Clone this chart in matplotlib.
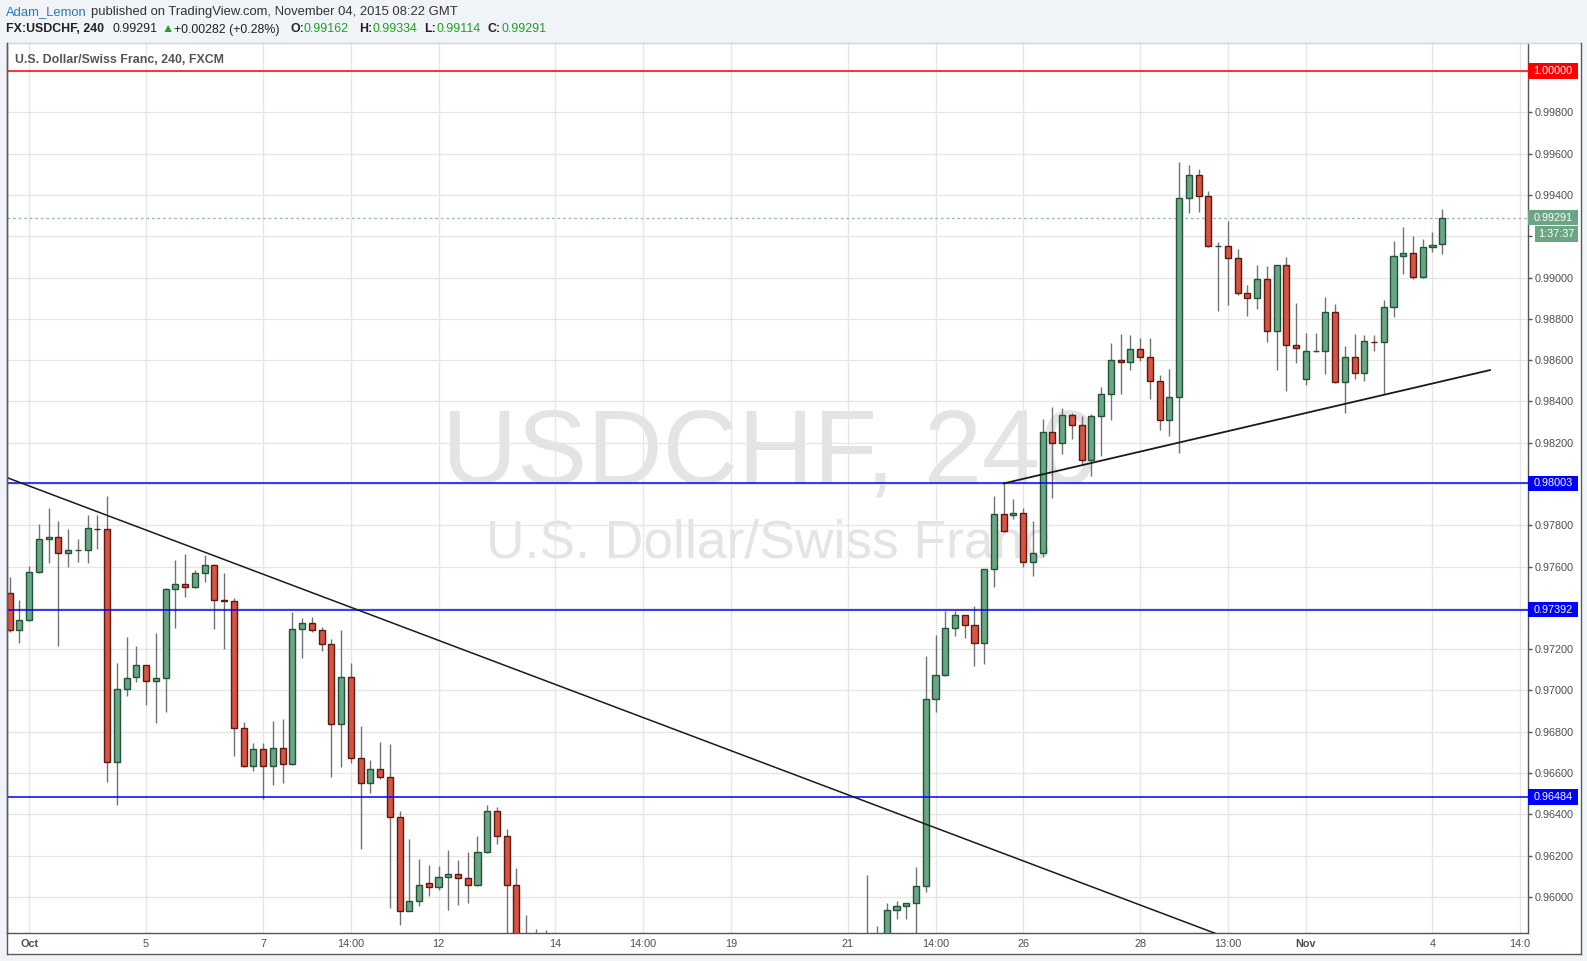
import matplotlib
matplotlib.use('Agg')
import matplotlib.pyplot as plt
from matplotlib.patches import Rectangle
from matplotlib.lines import Line2D
from matplotlib.transforms import blended_transform_factory
import numpy as np

plt.rcParams['font.family'] = ['Liberation Sans', 'DejaVu Sans']

# ---------------- data (FX:USDCHF, 240 min candles) ----------------
opens = [0.97470, 0.97291, 0.97339, 0.97572, 0.97736, 0.97741, 0.97664, 0.97678, 0.97682, 0.97784,
         0.97780, 0.96654, 0.97005, 0.97063, 0.97121, 0.97048, 0.97058, 0.97489, 0.97514, 0.97499,
         0.97567, 0.97610, 0.97436, 0.97431, 0.96816, 0.96632, 0.96714, 0.96632, 0.96719, 0.96645,
         0.97296, 0.97325, 0.97291, 0.97223, 0.96835, 0.97063, 0.96675, 0.96550, 0.96618, 0.96582,
         0.96388, 0.95933, 0.95978, 0.96065, 0.96049, 0.96094, 0.96109, 0.96090, 0.96056, 0.96216,
         0.96414, 0.96293, 0.96056, 0.95600, 0.95520, 0.95450, 0.95340, 0.95180, 0.95020, 0.95110,
         0.95240, 0.95360, 0.95080, 0.94850, 0.94910, 0.95090, 0.95210, 0.95400, 0.95320, 0.95380,
         0.95560, 0.95510, 0.95430, 0.95490, 0.95470, 0.95600, 0.95550, 0.95630, 0.95700, 0.95580,
         0.95660, 0.95680, 0.95560, 0.95620, 0.95590, 0.95650, 0.95610, 0.95690, 0.95720, 0.95750,
         0.95700, 0.95936, 0.95954, 0.95968, 0.96051, 0.96957, 0.97073, 0.97301, 0.97364, 0.97315,
         0.97228, 0.97587, 0.97853, 0.97848, 0.97858, 0.97624, 0.97664, 0.98250, 0.98197, 0.98333,
         0.98284, 0.98115, 0.98328, 0.98435, 0.98599, 0.98590, 0.98653, 0.98614, 0.98498, 0.98309,
         0.98420, 0.99384, 0.99496, 0.99394, 0.99152, 0.99155, 0.99093, 0.98924, 0.98900, 0.98992,
         0.98740, 0.99060, 0.98672, 0.98510, 0.98643, 0.98646, 0.98832, 0.98493, 0.98614, 0.98536,
         0.98690, 0.98687, 0.98856, 0.99103, 0.99118, 0.99001, 0.99147, 0.99162]
highs = [0.97549, 0.97438, 0.97602, 0.97806, 0.97883, 0.97820, 0.97782, 0.97733, 0.97849, 0.97849,
         0.97943, 0.97132, 0.97258, 0.97215, 0.97125, 0.97278, 0.97495, 0.97631, 0.97660, 0.97583,
         0.97654, 0.97612, 0.97568, 0.97446, 0.96846, 0.96745, 0.96745, 0.96853, 0.96861, 0.97380,
         0.97350, 0.97355, 0.97307, 0.97247, 0.97292, 0.97132, 0.96828, 0.96661, 0.96749, 0.96740,
         0.96417, 0.96282, 0.96183, 0.96154, 0.96149, 0.96227, 0.96178, 0.96217, 0.96295, 0.96443,
         0.96434, 0.96329, 0.96140, 0.95914, 0.95844, 0.95839, 0.95560, 0.95310, 0.95190, 0.95300,
         0.95410, 0.95520, 0.95170, 0.94970, 0.95140, 0.95280, 0.95460, 0.95550, 0.95430, 0.95610,
         0.95690, 0.95600, 0.95580, 0.95630, 0.95660, 0.95740, 0.95680, 0.95780, 0.95790, 0.95710,
         0.95770, 0.95760, 0.95690, 0.95740, 0.95710, 0.95780, 0.95760, 0.95800, 0.96106, 0.95859,
         0.95972, 0.95980, 0.95970, 0.96146, 0.97165, 0.97267, 0.97385, 0.97385, 0.97366, 0.97409,
         0.97590, 0.97942, 0.98003, 0.97927, 0.97884, 0.97821, 0.98313, 0.98373, 0.98367, 0.98343,
         0.98330, 0.98338, 0.98470, 0.98683, 0.98727, 0.98722, 0.98707, 0.98707, 0.98528, 0.98557,
         0.99560, 0.99546, 0.99526, 0.99420, 0.99173, 0.99274, 0.99139, 0.98964, 0.99060, 0.99055,
         0.99062, 0.99100, 0.98877, 0.98732, 0.98732, 0.98906, 0.98871, 0.98667, 0.98727, 0.98722,
         0.98722, 0.98890, 0.99177, 0.99245, 0.99202, 0.99187, 0.99221, 0.99334]
lows = [0.97281, 0.97231, 0.97335, 0.97568, 0.97615, 0.97216, 0.97599, 0.97623, 0.97618, 0.97686,
        0.96554, 0.96447, 0.96973, 0.97042, 0.96931, 0.96843, 0.96897, 0.97304, 0.97454, 0.97497,
        0.97526, 0.97299, 0.97202, 0.96683, 0.96628, 0.96611, 0.96476, 0.96540, 0.96550, 0.96638,
        0.97158, 0.97284, 0.97192, 0.96582, 0.96630, 0.96650, 0.96230, 0.96505, 0.96571, 0.95946,
        0.95865, 0.95930, 0.95957, 0.96006, 0.96035, 0.95938, 0.95962, 0.95969, 0.96052, 0.96212,
        0.96258, 0.95710, 0.95520, 0.95480, 0.95380, 0.95290, 0.95120, 0.94960, 0.94890, 0.95000,
        0.95150, 0.95010, 0.94780, 0.94760, 0.94830, 0.95020, 0.95150, 0.95280, 0.95200, 0.95330,
        0.95470, 0.95380, 0.95360, 0.95410, 0.95430, 0.95510, 0.95460, 0.95560, 0.95530, 0.95490,
        0.95590, 0.95510, 0.95480, 0.95550, 0.95500, 0.95570, 0.95520, 0.95610, 0.95650, 0.95660,
        0.95660, 0.95891, 0.95891, 0.95790, 0.96025, 0.96897, 0.97070, 0.97265, 0.97256, 0.97120,
        0.97130, 0.97503, 0.97768, 0.97829, 0.97600, 0.97556, 0.97648, 0.97934, 0.98144, 0.98220,
        0.98091, 0.98040, 0.98137, 0.98312, 0.98438, 0.98554, 0.98598, 0.98414, 0.98263, 0.98234,
        0.98152, 0.99315, 0.99320, 0.99150, 0.98840, 0.98869, 0.98917, 0.98816, 0.98850, 0.98690,
        0.98554, 0.98452, 0.98588, 0.98481, 0.98640, 0.98535, 0.98490, 0.98346, 0.98510, 0.98501,
        0.98646, 0.98435, 0.98811, 0.99019, 0.98995, 0.98998, 0.99126, 0.99114]
closes = [0.97291, 0.97339, 0.97572, 0.97736, 0.97741, 0.97664, 0.97678, 0.97682, 0.97785, 0.97780,
          0.96654, 0.97005, 0.97058, 0.97121, 0.97048, 0.97058, 0.97489, 0.97514, 0.97499, 0.97567,
          0.97610, 0.97436, 0.97433, 0.96816, 0.96632, 0.96714, 0.96632, 0.96719, 0.96645, 0.97296,
          0.97325, 0.97291, 0.97223, 0.96835, 0.97063, 0.96675, 0.96550, 0.96618, 0.96582, 0.96388,
          0.95933, 0.95978, 0.96056, 0.96049, 0.96094, 0.96109, 0.96090, 0.96056, 0.96216, 0.96414,
          0.96293, 0.96056, 0.95600, 0.95520, 0.95450, 0.95340, 0.95180, 0.95020, 0.95110, 0.95240,
          0.95360, 0.95080, 0.94850, 0.94910, 0.95090, 0.95210, 0.95400, 0.95320, 0.95380, 0.95560,
          0.95510, 0.95430, 0.95490, 0.95470, 0.95600, 0.95550, 0.95630, 0.95700, 0.95580, 0.95660,
          0.95680, 0.95560, 0.95620, 0.95590, 0.95650, 0.95610, 0.95690, 0.95720, 0.95750, 0.95700,
          0.95936, 0.95954, 0.95968, 0.96051, 0.96957, 0.97073, 0.97301, 0.97364, 0.97315, 0.97228,
          0.97587, 0.97853, 0.97771, 0.97858, 0.97624, 0.97664, 0.98250, 0.98197, 0.98333, 0.98284,
          0.98115, 0.98328, 0.98435, 0.98599, 0.98590, 0.98653, 0.98614, 0.98498, 0.98309, 0.98420,
          0.99384, 0.99496, 0.99394, 0.99152, 0.99155, 0.99093, 0.98924, 0.98900, 0.98992, 0.98740,
          0.99060, 0.98672, 0.98657, 0.98643, 0.98646, 0.98832, 0.98493, 0.98614, 0.98536, 0.98691,
          0.98687, 0.98856, 0.99103, 0.99118, 0.99001, 0.99147, 0.99160, 0.99291]

# time-axis labels (bar index where each label sits)
time_tick_bars = [2, 14, 26, 35, 44, 56, 65, 74, 86, 95, 104, 116, 125, 133, 146, 155]
time_tick_labels = ["Oct", "5", "7", "14:00", "12", "14", "14:00", "19", "21", "14:00",
                    "26", "28", "13:00", "Nov", "4", "14:0"]
month_labels = ["Oct", "Nov"]

# drawn levels / trend lines
level_prices = [1.00000, 0.98003, 0.97392, 0.96484]
level_colors = ['#ff0000', '#0000ff', '#0000ff', '#0000ff']
down_trend_bars = [0.4, 123.6]
down_trend_prices = [0.98019, 0.95825]
up_trend_bars = [102, 151.9]
up_trend_prices = [0.98003, 0.98552]
last_price = 0.99291
countdown = "1:37:37"

# ---------------- figure layout ----------------
W, H = 1587, 961
fig = plt.figure(figsize=(W / 100, H / 100), dpi=100, facecolor='#f0f3f7')
fx = lambda px: px / W
fy = lambda py: 1 - py / H

# white panel
fig.add_artist(Rectangle((fx(6.5), fy(954)), fx(1580.5) - fx(6.5), (954 - 43) / H,
                         transform=fig.transFigure, facecolor='white', edgecolor='none', zorder=0))
for (x0, y0, x1, y1, col) in [(6.5, 43, 1580.5, 43, '#d3d7dc'), (1580.5, 43, 1580.5, 954, '#5a5a5a'),
                              (6.5, 954, 1580.5, 954, '#5a5a5a'), (6.5, 43, 6.5, 954, '#5a5a5a')]:
    fig.add_artist(Line2D([fx(x0), fx(x1)], [fy(y0), fy(y1)], transform=fig.transFigure,
                          color=col, lw=1, zorder=0.5))

ax_left, ax_right, ax_top, ax_bot = 6.7, 1528, 43, 933.3
ax = fig.add_axes([fx(ax_left), fy(ax_bot), fx(ax_right) - fx(ax_left), (ax_bot - ax_top) / H])
ax.set_facecolor('white')
ax.set_xlim(-0.31, 155.8)
ax.set_ylim(0.958233, 1.001367)
ax.set_axisbelow(True)

for s in ['left', 'right', 'bottom']:
    ax.spines[s].set_color('#555555')
    ax.spines[s].set_linewidth(1)
ax.spines['top'].set_color('#d3d7dc')

# ticks (the 0.99200 label is hidden behind the countdown box in the original)
hidden_tick = 0.992
ax.yaxis.tick_right()
yt = np.round(np.arange(0.960, 1.0005, 0.002), 3)
ax.set_yticks(yt)
ax.set_yticklabels(["" if abs(v - hidden_tick) < 1e-9 else f"{v:.5f}" for v in yt])
ax.tick_params(axis='y', direction='out', length=3, width=1, color='#555555', pad=2,
               labelsize=7.8, labelcolor='#4d4d4d')
ax.set_xticks(time_tick_bars)
ax.set_xticklabels(time_tick_labels)
ax.tick_params(axis='x', length=0, pad=4, labelsize=7.8, labelcolor='#4d4d4d')
for lab in ax.get_xticklabels():
    if lab.get_text() in month_labels:
        lab.set_fontweight('bold')
ax.grid(True, color='#e6e6e6', lw=1)

# watermark
renderer = fig.canvas.get_renderer()


def fit(t, target):
    w = t.get_window_extent(renderer).width
    t.set_fontsize(t.get_fontsize() * target / w)


wm1 = ax.text(fx(770), fy(456), "USDCHF, 240", transform=fig.transFigure, ha='center', va='center',
              fontsize=74, color='#e4e4e4', zorder=0.3)
fit(wm1, 656)
wm2 = ax.text(fx(768), fy(544), "U.S. Dollar/Swiss Franc", transform=fig.transFigure, ha='center',
              va='center', fontsize=38, color='#e4e4e4', zorder=0.3)
fit(wm2, 563)

# candles
idx = np.arange(len(opens))
o = np.array(opens); c = np.array(closes); h = np.array(highs); l = np.array(lows)
up = c >= o
ax.vlines(idx, l, h, color='#737375', lw=1, zorder=3)
ax.bar(idx[up], (c - o)[up], bottom=o[up], width=0.62, color='#6ba583', edgecolor='#225437',
       lw=1, zorder=4)
ax.bar(idx[~up], (o - c)[~up], bottom=c[~up], width=0.62, color='#d75442', edgecolor='#5b1a13',
       lw=1, zorder=4)

# horizontal levels
for p, col in zip(level_prices, level_colors):
    ax.axhline(p, color=col, lw=1.1, zorder=5)
ax.axhline(last_price, color='#9dbdb3', lw=1, ls=(0, (2, 2)), zorder=2)

# trend lines
slope = (down_trend_prices[1] - down_trend_prices[0]) / (down_trend_bars[1] - down_trend_bars[0])
xs = np.array([-2.0, 160.0])
ax.plot(xs, down_trend_prices[0] + slope * (xs - down_trend_bars[0]), color='#1a1a1a', lw=1.1, zorder=5)
ax.plot(up_trend_bars, up_trend_prices, color='#1a1a1a', lw=1.3, zorder=5)

# price labels on the axis
blend = blended_transform_factory(ax.transAxes, ax.transData)
axw = ax_right - ax_left
px_per_unit = (ax_bot - ax_top) / (1.001367 - 0.958233)
box_h = 15.5 / px_per_unit


def price_box(price, text, col, x0px=0, x1px=50):
    ax.add_patch(Rectangle((1 + x0px / axw, price - box_h / 2), (x1px - x0px) / axw, box_h,
                           transform=blend, facecolor=col, edgecolor='none', clip_on=False, zorder=10))
    ax.text(1 + (x0px + x1px) / 2 / axw, price, text, transform=blend, ha='center', va='center',
            color='white', fontsize=7.8, clip_on=False, zorder=11)


for p, col in zip(level_prices, level_colors):
    price_box(p, f"{p:.5f}", col)
price_box(last_price, f"{last_price:.5f}", '#6ba583')
price_box(last_price - 16.5 / px_per_unit, countdown, '#6ba583', x0px=7, x1px=50)

# in-chart legend
lg = fig.text(fx(15.2), fy(59.7), "U.S. Dollar/Swiss Franc, 240, FXCM", ha='left', va='center',
              fontsize=9, color='#555555', fontweight='bold', zorder=5)
fit(lg, 209.5)

# header line 1
author = "Adam_Lemon"
published = "published on TradingView.com, November 04, 2015 08:22 GMT"
probe = fig.text(fx(6.1), fy(12), author + " " + published, ha='left', va='center', fontsize=9.5)
fit(probe, 450)
fs1 = probe.get_fontsize()
probe.remove()
t1 = fig.text(fx(6.1), fy(12), author, ha='left', va='center', fontsize=fs1, color='#2a7ab8')
w1 = t1.get_window_extent(renderer).width
gap = 0.33 * fs1 * 100 / 72
t2 = fig.text(fx(6.1 + w1 + gap), fy(12), published, ha='left', va='center', fontsize=fs1,
              color='#333333')

# header line 2
green = '#22a022'
t3 = fig.text(fx(6.1), fy(29.5), "FX:USDCHF, 240", ha='left', va='center', fontsize=9,
              fontweight='bold', color='#222222')
fit(t3, 98)
fs = t3.get_fontsize()
segs = [(112.3, "0.99291", 'normal', '#222222'), (162, "\u25B2", 'normal', green),
        (174, "+0.00282 (+0.28%)", 'normal', '#222222'), (290.5, "O:", 'bold', '#222222'),
        (303.6, "0.99162", 'normal', green), (359.3, "H:", 'bold', '#222222'),
        (372.5, "0.99334", 'normal', green), (424, "L:", 'bold', '#222222'),
        (436.2, "0.99114", 'normal', green), (487.8, "C:", 'bold', '#222222'),
        (502, "0.99291", 'normal', green)]
for x, s, wgt, col in segs:
    fig.text(fx(x), fy(29.5), s, ha='left', va='center', fontsize=fs, fontweight=wgt, color=col,
             family=['Liberation Sans', 'DejaVu Sans'])

fig.savefig('out.png', dpi=100, facecolor=fig.get_facecolor())
